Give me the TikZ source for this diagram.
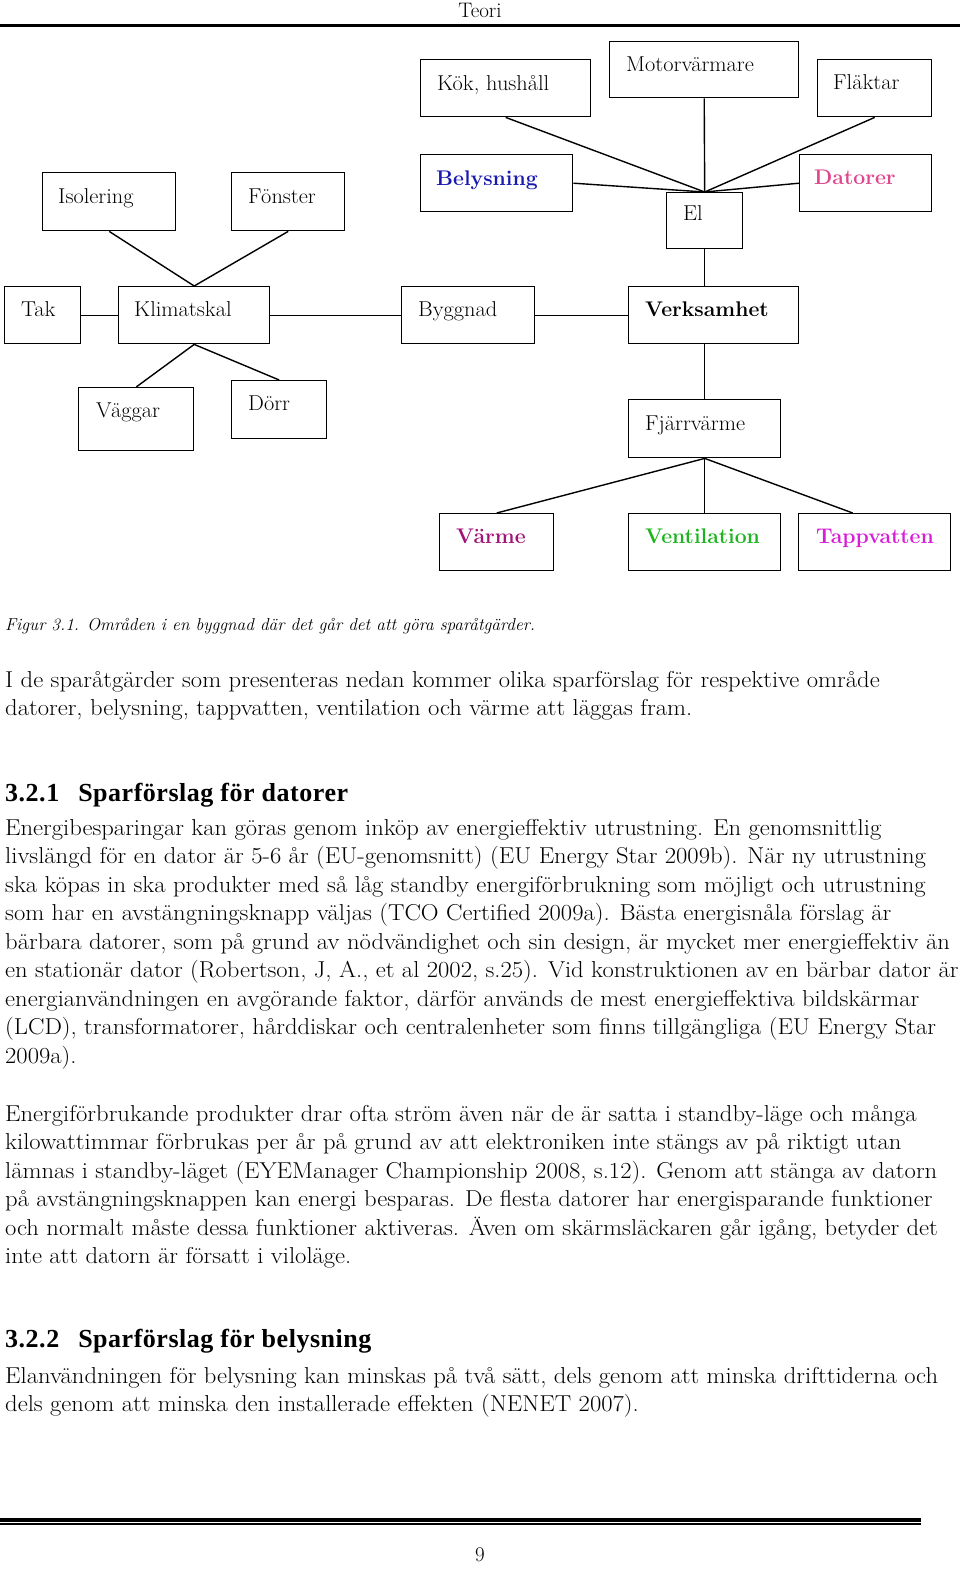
\documentclass[tikz,border=0pt]{standalone}
\usepackage{fontspec}
\newfontfamily\headfont[LetterSpace=2]{Liberation Serif}
\newfontfamily\bodyfont[FakeStretch=1.07]{Latin Modern Roman}
\newfontfamily\diafont[FakeStretch=1.04]{Latin Modern Roman}
\usetikzlibrary{calc}
\definecolor{belblue}{RGB}{25,25,175}
\definecolor{datpink}{RGB}{225,70,140}
\definecolor{varmecol}{RGB}{160,20,120}
\definecolor{ventcol}{RGB}{30,180,30}
\definecolor{tappcol}{RGB}{215,30,215}
\begin{document}
\begin{tikzpicture}[x=1pt,y=-1pt,
  box/.style={draw, line width=1.4pt, inner sep=0pt, anchor=north west},
  conn/.style={line width=1.4pt},
  lbl/.style={anchor=base west, inner sep=0pt, font=\diafont\fontsize{21.5}{24}\selectfont},
  blbl/.style={anchor=base west, inner sep=0pt, font=\fontsize{21.2}{24}\selectfont\bfseries},
  txt/.style={anchor=base west, inner sep=0pt, font=\bodyfont\fontsize{23}{28.5}\selectfont},
  head/.style={anchor=base west, inner sep=0pt, font=\headfont\bfseries\fontsize{26}{30}\selectfont},
  capt/.style={anchor=base west, inner sep=0pt, font=\itshape\fontsize{17.3}{20}\selectfont}]
\fill[white] (0,0) rectangle (960,1569);
\useasboundingbox (0,0) rectangle (960,1569);
% header
\node[anchor=base, inner sep=0pt, font=\fontsize{21}{24}\selectfont] (hdr) at (480,17) {Teori};
\draw[line width=2.7pt] (0,25.3) -- (960,25.3);
% boxes
\node[box, minimum width=170pt, minimum height=57pt] (kok) at (420,59) {};
\node[box, minimum width=189pt, minimum height=56pt] (motor) at (609,41) {};
\node[box, minimum width=114pt, minimum height=57pt] (flakt) at (817,59) {};
\node[box, minimum width=152pt, minimum height=57pt] (belys) at (420,154) {};
\node[box, minimum width=132pt, minimum height=57pt] (dator) at (799,154) {};
\node[box, minimum width=76pt, minimum height=56pt] (el) at (666,192) {};
\node[box, minimum width=133pt, minimum height=58pt] (isol) at (42,172) {};
\node[box, minimum width=113pt, minimum height=58pt] (fonst) at (231,172) {};
\node[box, minimum width=76pt, minimum height=57pt] (tak) at (4,286) {};
\node[box, minimum width=151pt, minimum height=57pt] (klimat) at (118,286) {};
\node[box, minimum width=133pt, minimum height=57pt] (bygg) at (401,286) {};
\node[box, minimum width=170pt, minimum height=57pt] (verk) at (628,286) {};
\node[box, minimum width=115pt, minimum height=63pt] (vagg) at (78,387) {};
\node[box, minimum width=95pt, minimum height=58pt] (dorr) at (231,380) {};
\node[box, minimum width=152pt, minimum height=58pt] (fjarr) at (628,399) {};
\node[box, minimum width=114pt, minimum height=57pt] (varme) at (439,513) {};
\node[box, minimum width=152pt, minimum height=57pt] (vent) at (628,513) {};
\node[box, minimum width=152pt, minimum height=57pt] (tapp) at (798,513) {};
% labels
\node[lbl] (tkok) at (437,90) {Kök, hushåll};
\node[lbl] (tmotor) at (626,71) {Motorvärmare};
\node[lbl] (tflakt) at (833,89) {Fläktar};
\node[blbl, text=belblue] (tbelys) at (436,185) {Belysning};
\node[blbl, text=datpink] (tdator) at (814,184) {Datorer};
\node[lbl] (tel) at (683,220) {El};
\node[lbl] (tisol) at (58,203) {Isolering};
\node[lbl] (tfonst) at (248,203) {Fönster};
\node[lbl] (ttak) at (21,316) {Tak};
\node[lbl] (tklimat) at (134,316) {Klimatskal};
\node[lbl] (tbygg) at (418,316) {Byggnad};
\node[blbl] (tverk) at (645,316) {Verksamhet};
\node[lbl] (tvagg) at (96,417) {Väggar};
\node[lbl] (tdorr) at (248,410) {Dörr};
\node[lbl] (tfjarr) at (645,430) {Fjärrvärme};
\node[blbl, text=varmecol] (tvarme) at (456,543) {Värme};
\node[blbl, text=ventcol] (tvent) at (645,543) {Ventilation};
\node[blbl, text=tappcol] (ttapp) at (816,543) {Tappvatten};
% connectors
\draw[conn] (kok.south) -- (el.north);
\draw[conn] (motor.south) -- (el.north);
\draw[conn] (flakt.south) -- (el.north);
\draw[conn] (belys.east) -- (el.north);
\draw[conn] (dator.west) -- (el.north);
\draw[conn] (el.south) -- (el.south |- verk.north);
\draw[conn] (isol.south) -- (klimat.north);
\draw[conn] (fonst.south) -- (klimat.north);
\draw[conn] (tak.east) -- (klimat.west);
\draw[conn] (klimat.east) -- (bygg.west);
\draw[conn] (bygg.east) -- (verk.west);
\draw[conn] (klimat.south) -- (vagg.north);
\draw[conn] (klimat.south) -- (dorr.north);
\draw[conn] (fjarr.north |- verk.south) -- (fjarr.north);
\draw[conn] (fjarr.south) -- (varme.north);
\draw[conn] (fjarr.south) -- (vent.north);
\draw[conn] (fjarr.south) -- ($(tapp.north)+(-22,0)$);
% caption
\node[capt] (cap) at (5,630) {Figur 3.1. Områden i en byggnad där det går det att göra sparåtgärder.};
% paragraph 1
\node[txt] (a1) at (5,687) {I de sparåtgärder som presenteras nedan kommer olika sparförslag för respektive område};
\node[txt] (a2) at (5,715.5) {datorer, belysning, tappvatten, ventilation och värme att läggas fram.};
% heading 1
\node[head] (h1) at (5,801) {3.2.1\hspace{19pt}Sparförslag för datorer};
\node[txt] (b1) at (5,835) {Energibesparingar kan göras genom inköp av energieffektiv utrustning. En genomsnittlig};
\node[txt] (b2) at (5,863.5) {livslängd för en dator är 5-6 år (EU-genomsnitt) (EU Energy Star 2009b). När ny utrustning};
\node[txt] (b3) at (5,892) {ska köpas in ska produkter med så låg standby energiförbrukning som möjligt och utrustning};
\node[txt] (b4) at (5,920.5) {som har en avstängningsknapp väljas (TCO Certified 2009a). Bästa energisnåla förslag är};
\node[txt] (b5) at (5,949) {bärbara datorer, som på grund av nödvändighet och sin design, är mycket mer energieffektiv än};
\node[txt] (b6) at (5,977.5) {en stationär dator (Robertson, J, A., et al 2002, s.25). Vid konstruktionen av en bärbar dator är};
\node[txt] (b7) at (5,1006) {energianvändningen en avgörande faktor, därför används de mest energieffektiva bildskärmar};
\node[txt] (b8) at (5,1034.5) {(LCD), transformatorer, hårddiskar och centralenheter som finns tillgängliga (EU Energy Star};
\node[txt] (b9) at (5,1063) {2009a).};
% paragraph 3
\node[txt] (c1) at (5,1121) {Energiförbrukande produkter drar ofta ström även när de är satta i standby-läge och många};
\node[txt] (c2) at (5,1149.5) {kilowattimmar förbrukas per år på grund av att elektroniken inte stängs av på riktigt utan};
\node[txt] (c3) at (5,1178) {lämnas i standby-läget (EYEManager Championship 2008, s.12). Genom att stänga av datorn};
\node[txt] (c4) at (5,1206.5) {på avstängningsknappen kan energi besparas. De flesta datorer har energisparande funktioner};
\node[txt] (c5) at (5,1235) {och normalt måste dessa funktioner aktiveras. Även om skärmsläckaren går igång, betyder det};
\node[txt] (c6) at (5,1263.5) {inte att datorn är försatt i viloläge.};
% heading 2
\node[head] (h2) at (5,1347) {3.2.2\hspace{19pt}Sparförslag för belysning};
\node[txt] (d1) at (5,1383) {Elanvändningen för belysning kan minskas på två sätt, dels genom att minska drifttiderna och};
\node[txt] (d2) at (5,1411.5) {dels genom att minska den installerade effekten (NENET 2007).};
% footer
\draw[line width=4pt] (0,1520.3) -- (921,1520.3);
\draw[line width=1.4pt] (0,1524) -- (921,1524);
\node[anchor=base, inner sep=0pt, font=\fontsize{21}{24}\selectfont] (pg) at (480,1561) {9};
\end{tikzpicture}
\end{document}
